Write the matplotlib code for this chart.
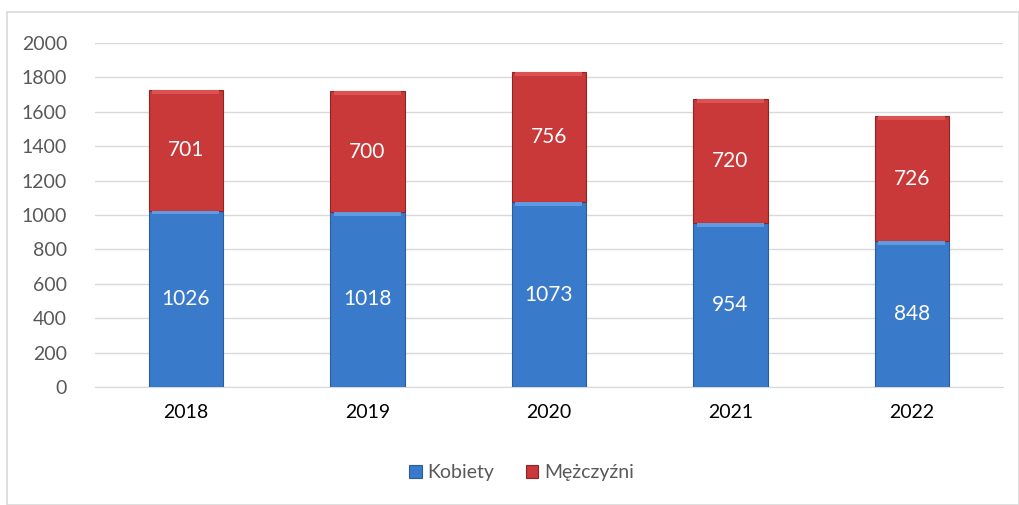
import matplotlib.pyplot as plt
from matplotlib.patches import Rectangle

# Data
years = ["2018", "2019", "2020", "2021", "2022"]
kobiety = [1026, 1018, 1073, 954, 848]
mezczyzni = [701, 700, 756, 720, 726]

plt.rcParams["font.family"] = ["Lato", "DejaVu Sans"]

fig = plt.figure(figsize=(10.19, 5.05), dpi=100)
ax = fig.add_axes([0.0932, 0.2337, 0.8908, 0.6812])

# outer chart border
fig.patches.append(Rectangle((7 / 1019, 0), 1 - 7 / 1019, 1 - 12 / 505,
                             transform=fig.transFigure, fill=False,
                             edgecolor="#d9d9d9", linewidth=1.2))

x = list(range(len(years)))
w = 0.41
blue = "#3a7acb"
red = "#c93939"

b1 = ax.bar(x, kobiety, width=w, color=blue, edgecolor="#2a5d9e", linewidth=0.8, zorder=3)
b2 = ax.bar(x, mezczyzni, width=w, bottom=kobiety, color=red, edgecolor="#8e2424", linewidth=0.8, zorder=3)

# lighter cap at top of each segment to mimic the bevel look
for i in x:
    ax.bar(i, 22, width=w * 0.9, bottom=kobiety[i] - 22, color="#5f9ae2", linewidth=0, zorder=4)
    ax.bar(i, 22, width=w * 0.9, bottom=kobiety[i] + mezczyzni[i] - 22, color="#dc5252", linewidth=0, zorder=4)

for i in x:
    ax.text(i, kobiety[i] / 2, str(kobiety[i]), ha="center", va="center",
            color="white", fontsize=15, zorder=5)
    ax.text(i, kobiety[i] + mezczyzni[i] / 2, str(mezczyzni[i]), ha="center", va="center",
            color="white", fontsize=15, zorder=5)

ax.set_xlim(-0.5, len(years) - 0.5)
ax.set_ylim(0, 2000)
ax.set_yticks(range(0, 2001, 200))
ax.set_xticks(x)
ax.set_xticklabels(years)
ax.grid(axis="y", color="#d9d9d9", linewidth=1, zorder=0)
ax.tick_params(axis="y", length=0, labelsize=14, labelcolor="#595959", pad=20)
ax.tick_params(axis="x", length=0, labelsize=14, labelcolor="#000000", pad=12)
for s in ["top", "right", "left"]:
    ax.spines[s].set_visible(False)
ax.spines["bottom"].set_color("#d9d9d9")

leg = ax.legend([b1, b2], ["Kobiety", "Mężczyźni"], loc="center",
                bbox_to_anchor=(0.47, -0.25), ncol=2, frameon=False,
                fontsize=14, handlelength=0.65, handleheight=0.65,
                handletextpad=0.3, columnspacing=1.6)
for t in leg.get_texts():
    t.set_color("#595959")

fig.savefig("out.png", dpi=100)
